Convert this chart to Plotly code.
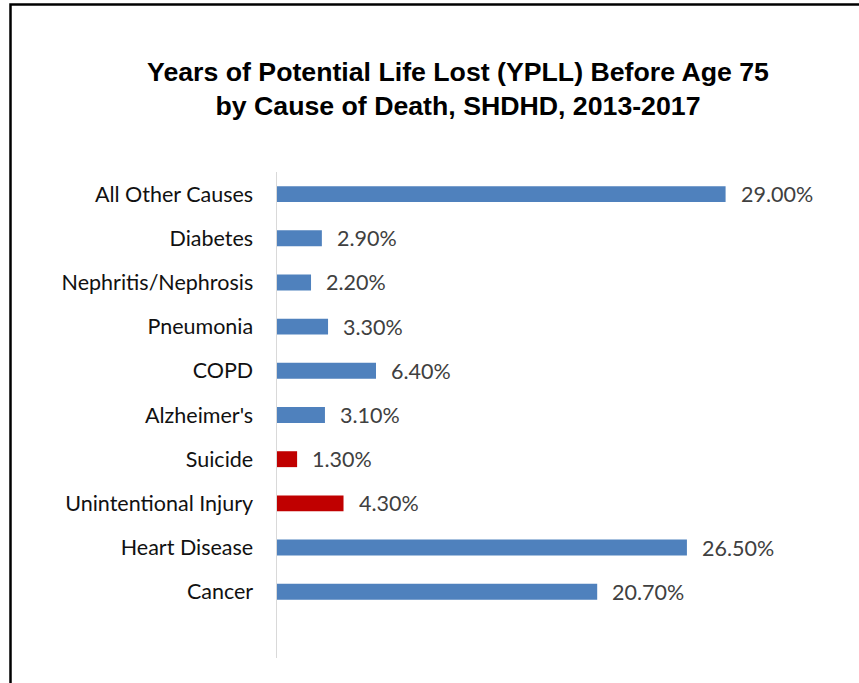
import plotly.graph_objects as go

categories = ["Cancer", "Heart Disease", "Unintentional Injury", "Suicide", "Alzheimer's",
              "COPD", "Pneumonia", "Nephritis/Nephrosis", "Diabetes", "All Other Causes"]
values = [20.7, 26.5, 4.3, 1.3, 3.1, 6.4, 3.3, 2.2, 2.9, 29.0]
colors = ["#4F81BD", "#4F81BD", "#C00000", "#C00000", "#4F81BD",
          "#4F81BD", "#4F81BD", "#4F81BD", "#4F81BD", "#4F81BD"]
labels = [f"{v:.2f}%" for v in values]

W, H = 859, 683
ml, mr, mt, mb = 277, 87, 172, 25
pw = W - ml - mr
ph = H - mt - mb

fig = go.Figure()
fig.add_trace(go.Bar(
    y=categories, x=values, orientation="h",
    marker=dict(color=colors, line=dict(width=0)),
    width=0.36, hoverinfo="skip",
))
for c, v, t in zip(categories, values, labels):
    fig.add_annotation(x=v, y=c, text=t, showarrow=False, xanchor="left",
                       xshift=13, font=dict(family="Lato, Carlito, sans-serif", size=21.5, color="#404040"))

# outer border (left/top visible)
x0 = (10.5 - ml) / pw
y1 = (H - mb - 4.5) / ph
fig.add_shape(type="rect", xref="paper", yref="paper", x0=x0, x1=2.0, y0=-1.0, y1=y1,
              line=dict(color="black", width=2.5), layer="above")

fig.update_layout(
    width=W, height=H,
    margin=dict(l=ml, r=mr, t=mt, b=mb),
    paper_bgcolor="white", plot_bgcolor="white",
    showlegend=False,
    title=dict(text="Years of Potential Life Lost (YPLL) Before Age 75<br>by Cause of Death, SHDHD, 2013-2017",
               x=458 / W, xanchor="center", y=1 - 80.5 / H, yanchor="middle",
               font=dict(family="Liberation Sans Narrow, Arial Narrow, Liberation Sans, sans-serif",
                         size=26.7, color="black", weight="bold")),
    xaxis=dict(range=[0, 32], visible=False, fixedrange=True),
    yaxis=dict(type="category", categoryorder="array", categoryarray=categories,
               range=[-1.5, 9.5], showline=True, linecolor="#D9D9D9", linewidth=1.5,
               showgrid=False, ticks="", ticklabelstandoff=18, fixedrange=True,
               tickfont=dict(family="Lato, Carlito, sans-serif", size=21.5, color="#111111")),
)

fig.write_html("out.html", config={"displayModeBar": False, "staticPlot": True},
               post_script="document.body.style.margin='0';")
